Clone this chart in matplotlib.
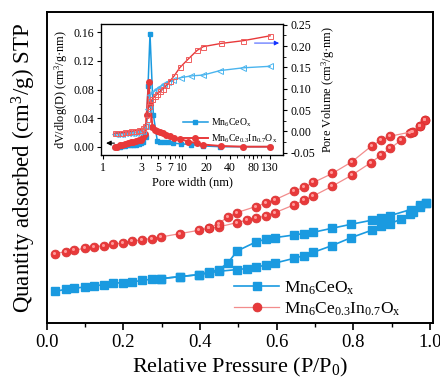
import matplotlib
matplotlib.use("Agg")
import matplotlib.pyplot as plt
from matplotlib.lines import Line2D
from matplotlib.transforms import offset_copy
import numpy as np

plt.rcParams['font.family'] = ['Liberation Serif', 'DejaVu Serif']
plt.rcParams['mathtext.default'] = 'regular'

# ---------------- main isotherm data ----------------
p_ads_ce = [0.023, 0.05, 0.071, 0.10, 0.124, 0.15, 0.174, 0.198, 0.223, 0.25, 0.274, 0.299,
            0.349, 0.398, 0.423, 0.449, 0.497, 0.522, 0.546, 0.571, 0.597, 0.646, 0.671,
            0.696, 0.745, 0.795, 0.848, 0.872, 0.897, 0.924, 0.948, 0.955, 0.975, 0.99]
q_ads_ce = [32, 34, 35, 36.3, 37.3, 38.7, 40, 40.7, 41.3, 43, 44, 44.7,
            46.7, 48.7, 50.3, 52, 53.7, 54.7, 56.3, 58, 60.3, 65, 67.7,
            71, 77.7, 85.7, 93, 97, 99.7, 104, 109.7, 111, 116.3, 120.3]
p_des_ce = [0.99, 0.975, 0.95, 0.897, 0.872, 0.848, 0.795, 0.745, 0.696, 0.671, 0.646,
            0.597, 0.571, 0.546, 0.497, 0.472, 0.449, 0.423, 0.398, 0.349, 0.299]
q_des_ce = [120.3, 118, 113.7, 107.7, 105.3, 103, 99, 95, 91, 89.7, 88.3,
            85.7, 84, 81.3, 72.3, 60, 53.7, 51, 48.7, 46.7, 44.7]

p_ads_in = [0.023, 0.05, 0.071, 0.10, 0.124, 0.15, 0.174, 0.198, 0.223, 0.25, 0.274, 0.299,
            0.349, 0.398, 0.423, 0.449, 0.497, 0.522, 0.546, 0.571, 0.597, 0.646, 0.671,
            0.696, 0.745, 0.796, 0.846, 0.872, 0.897, 0.924, 0.948, 0.955, 0.974, 0.987]
q_ads_in = [69.7, 71.7, 73, 75, 76.3, 77.7, 79, 80.3, 82, 83.7, 84.7, 86.3,
            89.7, 93, 95, 96.3, 100.7, 103, 105, 107.3, 110.7, 118.5, 123,
            127.3, 137, 148, 160.5, 168, 174.7, 183, 190.3, 191.3, 197, 203]
p_des_in = [0.987, 0.974, 0.952, 0.897, 0.872, 0.848, 0.796, 0.745, 0.696, 0.671, 0.646,
            0.597, 0.571, 0.546, 0.497, 0.472, 0.449, 0.423]
q_des_in = [203, 197, 191.3, 187, 182.7, 177.3, 161.3, 149.7, 140.7, 135.7, 132.3,
            123.7, 120, 116.7, 110.7, 106.3, 99.7, 95]

# ---------------- inset pore data ----------------
d_ce = [1.40, 1.50, 1.62, 1.75, 1.90, 2.05, 2.22, 2.40, 2.60, 2.80, 3.00, 3.20, 3.48,
        3.69, 3.91, 4.31, 4.84, 5.30, 5.90, 6.60, 7.60, 9.70, 13.0, 18.5, 30.2, 59.6, 130]
psd_ce = [0.000, 0.000, 0.000, 0.001, 0.001, 0.002, 0.002, 0.003, 0.003, 0.004, 0.005, 0.007, 0.013,
          0.085, 0.158, 0.045, 0.008, 0.007, 0.006, 0.006, 0.005, 0.004, 0.003, 0.001, 0.000, 0.000, 0.000]
vol_ce = [-0.006, -0.006, -0.006, -0.006, -0.005, -0.005, -0.004, -0.004, -0.003, -0.002, 0.000, 0.002, 0.012,
          0.052, 0.085, 0.092, 0.099, 0.105, 0.110, 0.115, 0.120, 0.126, 0.130, 0.132, 0.1425, 0.149, 0.1525]

d_in = [1.40, 1.50, 1.62, 1.75, 1.90, 2.05, 2.22, 2.40, 2.60, 2.80, 3.00, 3.20, 3.40, 3.55,
        3.76, 3.95, 4.20, 4.50, 4.85, 5.25, 5.70, 6.30, 7.00, 7.90, 9.40, 12.0, 15.5, 18.5, 30.8, 59.6, 130]
psd_in = [0.000, 0.000, 0.002, 0.003, 0.004, 0.005, 0.006, 0.007, 0.008, 0.009, 0.010, 0.013, 0.018, 0.045,
          0.090, 0.060, 0.028, 0.023, 0.022, 0.021, 0.019, 0.017, 0.015, 0.012, 0.011, 0.007, 0.005, 0.003, 0.001, 0.000, 0.000]
vol_in = [-0.004, -0.004, -0.003, -0.003, -0.002, -0.001, 0.000, 0.001, 0.002, 0.003, 0.004, 0.008, 0.013, 0.030,
          0.060, 0.070, 0.076, 0.083, 0.088, 0.094, 0.100, 0.108, 0.118, 0.130, 0.150, 0.170, 0.190, 0.1986, 0.206, 0.2126, 0.224]

labels = ['Mn$_6$CeO$_x$', 'Mn$_6$Ce$_{0.3}$In$_{0.7}$O$_x$']
blue = '#1a9ae0'
red = '#e8393a'
pink = '#f28c8c'

fig = plt.figure(figsize=(4.4, 3.81), dpi=100)
ax = fig.add_axes([0.1061, 0.1514, 0.878, 0.817])

hl = offset_copy(ax.transData, fig=fig, x=-1.0, y=1.0, units='dots')
ax.plot(p_ads_ce, q_ads_ce, '-s', color=blue, lw=1.2, ms=5.4, mec=blue, zorder=3)
ax.plot(p_des_ce, q_des_ce, '-s', color=blue, lw=1.2, ms=5.4, mec=blue, zorder=3)
ax.plot(p_ads_in, q_ads_in, '-o', color=pink, lw=0.9, ms=6.4, mfc=red, mec='#d83030', mew=0.5, zorder=3)
ax.plot(p_des_in, q_des_in, '-o', color=pink, lw=0.9, ms=6.4, mfc=red, mec='#d83030', mew=0.5, zorder=3)
ax.plot(p_ads_in, q_ads_in, 'o', color='#ff9a9a', ms=2.2, mew=0, transform=hl, zorder=4)
ax.plot(p_des_in, q_des_in, 'o', color='#ff9a9a', ms=2.2, mew=0, transform=hl, zorder=4)

ax.set_xlim(0, 1.008)
ax.set_ylim(0, 311)
ax.set_xticks([0.0, 0.2, 0.4, 0.6, 0.8, 1.0])
ax.set_xticks([0.1, 0.3, 0.5, 0.7, 0.9], minor=True)
ax.set_yticks([])
ax.tick_params(axis='x', which='major', direction='out', length=5, width=1.2, labelsize=13.5, pad=3)
ax.tick_params(axis='x', which='minor', direction='out', length=3, width=1.0)
for s in ax.spines.values():
    s.set_linewidth(1.4)
ax.set_xlabel('Relative Pressure (P/P$_0$)', fontsize=16, labelpad=3)
ax.set_ylabel('Quantity adsorbed (cm$^3$/g) STP', fontsize=16.5, labelpad=6)

h1 = Line2D([], [], color=blue, lw=1.2, marker='s', ms=5.4)
h2 = Line2D([], [], color=pink, lw=0.9, marker='o', ms=6.4, mfc=red, mec='#d83030', mew=0.5)
ax.legend([h1, h2], labels, loc='lower right', bbox_to_anchor=(0.935, -0.005), borderaxespad=0.0,
          frameon=False, fontsize=12.5, handlelength=2.6, handletextpad=0.3, labelspacing=0.22)

# ---------------- inset ----------------
ins = fig.add_axes([0.2295, 0.5932, 0.4143, 0.3425])
ins.set_xscale('log')
ins.plot(d_ce, psd_ce, '-s', color=blue, lw=1.1, ms=3.3, zorder=3)
ins.plot(d_in, psd_in, '-o', color=red, lw=1.4, ms=4.0, zorder=3)
ins.set_xlim(0.935, 191)
ins.set_ylim(-0.0116, 0.171)
ins.set_yticks([0.00, 0.04, 0.08, 0.12, 0.16])
ins.set_yticks(np.arange(0.02, 0.17, 0.04), minor=True)
ins.set_xticks([1, 3, 5, 7, 10, 20, 40, 80, 130])
ins.set_xticklabels(['1', '3', '5', '7', '10', '20', '40', '80', '130'])
ins.set_xticks([2, 4, 6, 8, 9, 30, 50, 60, 70, 90, 100], minor=True)
ins.xaxis.set_minor_formatter(matplotlib.ticker.NullFormatter())
ins.yaxis.set_major_formatter(matplotlib.ticker.FormatStrFormatter('%.2f'))
ins.tick_params(which='major', direction='out', length=3, width=0.8, labelsize=8.5, pad=2)
ins.tick_params(which='minor', direction='out', length=1.8, width=0.6)
ins.set_xlabel('Pore width (nm)', fontsize=8.8, labelpad=2)
ins.set_ylabel('dV/dlog(D) (cm$^3$/g·nm)', fontsize=8.8, labelpad=2)
for s in ins.spines.values():
    s.set_linewidth(0.9)

ins2 = ins.twinx()
ins2.plot(d_ce, vol_ce, '-<', color='#4ab4ee', lw=1.0, ms=4.0, mfc='none', mec='#4ab4ee', mew=0.7, zorder=2)
ins2.plot(d_in, vol_in, '-s', color=red, lw=1.0, ms=3.6, mfc='none', mec='#f06060', mew=0.7, zorder=2)
ins2.set_ylim(-0.0554, 0.2505)
ins2.set_yticks([-0.05, 0.00, 0.05, 0.10, 0.15, 0.20, 0.25])
ins2.set_yticks(np.arange(-0.025, 0.25, 0.05), minor=True)
ins2.yaxis.set_major_formatter(matplotlib.ticker.FormatStrFormatter('%.2f'))
ins2.tick_params(which='major', direction='out', length=3, width=0.8, labelsize=8.5, pad=2)
ins2.tick_params(which='minor', direction='out', length=1.8, width=0.6)
ins2.set_ylabel('Pore Volume (cm$^3$/g·nm)', fontsize=8.8, labelpad=3)

# axis-indicating arrows
ins.annotate('', xy=(1.0, 0.005), xytext=(1.5, 0.005),
             arrowprops=dict(arrowstyle='-|>', color='black', lw=0.8, mutation_scale=7))
ins2.annotate('', xy=(183, 0.207), xytext=(76, 0.207),
              arrowprops=dict(arrowstyle='-|>', color='#1030ff', lw=0.6, mutation_scale=7))

ih1 = Line2D([], [], color=blue, lw=1.1, marker='s', ms=3.3)
ih2 = Line2D([], [], color=red, lw=1.4, marker='o', ms=4.0)
ins.legend([ih1, ih2], labels, loc='lower right', bbox_to_anchor=(1.0, 0.03), frameon=False,
           fontsize=7, handlelength=2.6, handletextpad=0.3, labelspacing=0.35, borderaxespad=0.2)

fig.savefig('out.png', dpi=100)
